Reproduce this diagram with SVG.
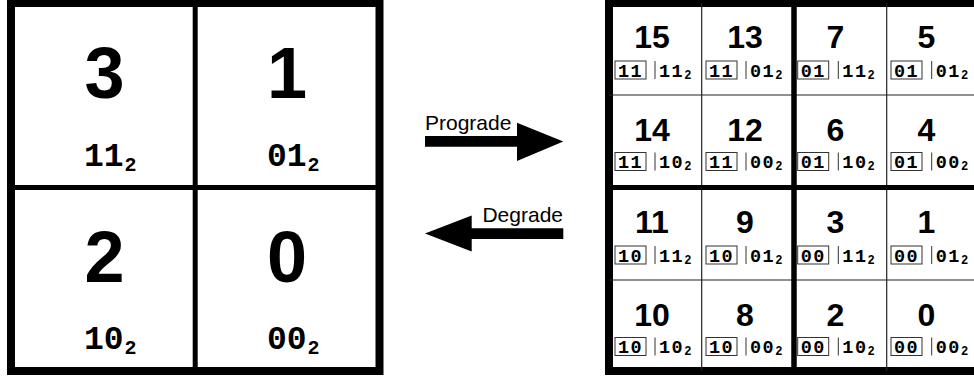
<svg xmlns="http://www.w3.org/2000/svg" width="974" height="377" viewBox="0 0 974 377">
<style>
.big{font-family:"Liberation Sans",Arial,sans-serif;font-weight:bold;font-size:72px;text-anchor:middle}
.lbl{font-family:"Liberation Mono","Courier New",monospace;font-weight:bold;font-size:33px}
.sub{font-size:20px}
.num{font-family:"Liberation Sans",Arial,sans-serif;font-weight:bold;font-size:32px;text-anchor:middle}
.bin{font-family:"Liberation Mono","Courier New",monospace;font-weight:bold;font-size:18.5px;letter-spacing:1.5px}
.sb{font-size:12px;letter-spacing:0}
.box{fill:none;stroke:#333;stroke-width:1}
.bar{stroke:#333;stroke-width:1}
.thin{stroke:#222;stroke-width:1.2}
.cap{font-family:"Liberation Sans",Arial,sans-serif;font-size:21px}
</style>
<rect width="974" height="377" fill="#fff"/>
<g id="left-grid">
<rect x="11" y="3" width="368.5" height="368" fill="#fff" stroke="#000" stroke-width="8"/>
<line x1="195.2" y1="3" x2="195.2" y2="371" stroke="#000" stroke-width="5"/>
<line x1="11" y1="187.5" x2="379.5" y2="187.5" stroke="#000" stroke-width="5"/>
</g>
<g id="cell-3"><text class="big" x="104.5" y="98">3</text><text class="lbl" x="84" y="165.5">11<tspan class="sub" dx="1" dy="5">2</tspan></text></g>
<g id="cell-1"><text class="big" x="287" y="98">1</text><text class="lbl" x="267" y="165.5">01<tspan class="sub" dx="1" dy="5">2</tspan></text></g>
<g id="cell-2"><text class="big" x="104.5" y="281.5">2</text><text class="lbl" x="84" y="349">10<tspan class="sub" dx="1" dy="5">2</tspan></text></g>
<g id="cell-0"><text class="big" x="287" y="281.5">0</text><text class="lbl" x="267" y="349">00<tspan class="sub" dx="1" dy="5">2</tspan></text></g>

<g id="connectors">
<g id="prograde">
<polygon points="425,136 517,136 517,122.7 563.3,141.6 517,161 517,146.7 425,146.7" fill="#000"/>
<text class="cap" x="425" y="130">Prograde</text>
</g>
<g id="degrade">
<polygon points="563.3,228.3 471.7,228.3 471.7,215.5 425,233.6 471.7,251.5 471.7,239 563.3,239" fill="#000"/>
<text class="cap" x="563" y="221.5" text-anchor="end">Degrade</text>
</g>
</g>

<g id="right-grid">
<rect x="609" y="3" width="371" height="368" fill="#fff" stroke="#000" stroke-width="8"/>
<line class="thin" x1="701.7" y1="3" x2="701.7" y2="371"/>
<line class="thin" x1="886.7" y1="3" x2="886.7" y2="371"/>
<line class="thin" x1="609" y1="95" x2="980" y2="95"/>
<line class="thin" x1="609" y1="280" x2="980" y2="280"/>
<line x1="794" y1="3" x2="794" y2="371" stroke="#000" stroke-width="5.5"/>
<line x1="609" y1="187.5" x2="980" y2="187.5" stroke="#000" stroke-width="5"/>
</g>

<g id="r15"><text class="num" x="652" y="48">15</text><rect class="box" x="615" y="61" width="31" height="18"/><text class="bin" x="618" y="76.5">11</text><line class="bar" x1="655" y1="61" x2="655" y2="79"/><text class="bin" x="659" y="76.5">11<tspan class="sb" dy="2">2</tspan></text></g>
<g id="r13"><text class="num" x="745" y="48">13</text><rect class="box" x="706" y="61" width="31" height="18"/><text class="bin" x="709" y="76.5">11</text><line class="bar" x1="746" y1="61" x2="746" y2="79"/><text class="bin" x="750" y="76.5">01<tspan class="sb" dy="2">2</tspan></text></g>
<g id="r7"><text class="num" x="835.5" y="48">7</text><rect class="box" x="797.7" y="61" width="31" height="18"/><text class="bin" x="800.7" y="76.5">01</text><line class="bar" x1="838.3" y1="61" x2="838.3" y2="79"/><text class="bin" x="842.3" y="76.5">11<tspan class="sb" dy="2">2</tspan></text></g>
<g id="r5"><text class="num" x="926.5" y="48">5</text><rect class="box" x="891" y="61" width="31" height="18"/><text class="bin" x="894" y="76.5">01</text><line class="bar" x1="931.7" y1="61" x2="931.7" y2="79"/><text class="bin" x="935.7" y="76.5">01<tspan class="sb" dy="2">2</tspan></text></g>

<g id="r14"><text class="num" x="652" y="140.6">14</text><rect class="box" x="615" y="152.5" width="31" height="18"/><text class="bin" x="618" y="168">11</text><line class="bar" x1="655" y1="152.5" x2="655" y2="170.5"/><text class="bin" x="659" y="168">10<tspan class="sb" dy="2">2</tspan></text></g>
<g id="r12"><text class="num" x="745" y="140.6">12</text><rect class="box" x="706" y="152.5" width="31" height="18"/><text class="bin" x="709" y="168">11</text><line class="bar" x1="746" y1="152.5" x2="746" y2="170.5"/><text class="bin" x="750" y="168">00<tspan class="sb" dy="2">2</tspan></text></g>
<g id="r6"><text class="num" x="835.5" y="140.6">6</text><rect class="box" x="797.7" y="152.5" width="31" height="18"/><text class="bin" x="800.7" y="168">01</text><line class="bar" x1="838.3" y1="152.5" x2="838.3" y2="170.5"/><text class="bin" x="842.3" y="168">10<tspan class="sb" dy="2">2</tspan></text></g>
<g id="r4"><text class="num" x="926.5" y="140.6">4</text><rect class="box" x="891" y="152.5" width="31" height="18"/><text class="bin" x="894" y="168">01</text><line class="bar" x1="931.7" y1="152.5" x2="931.7" y2="170.5"/><text class="bin" x="935.7" y="168">00<tspan class="sb" dy="2">2</tspan></text></g>

<g id="r11"><text class="num" x="652" y="233.3">11</text><rect class="box" x="615" y="246" width="31" height="18"/><text class="bin" x="618" y="261.5">10</text><line class="bar" x1="655" y1="246" x2="655" y2="264"/><text class="bin" x="659" y="261.5">11<tspan class="sb" dy="2">2</tspan></text></g>
<g id="r9"><text class="num" x="745" y="233.3">9</text><rect class="box" x="706" y="246" width="31" height="18"/><text class="bin" x="709" y="261.5">10</text><line class="bar" x1="746" y1="246" x2="746" y2="264"/><text class="bin" x="750" y="261.5">01<tspan class="sb" dy="2">2</tspan></text></g>
<g id="r3"><text class="num" x="835.5" y="233.3">3</text><rect class="box" x="797.7" y="246" width="31" height="18"/><text class="bin" x="800.7" y="261.5">00</text><line class="bar" x1="838.3" y1="246" x2="838.3" y2="264"/><text class="bin" x="842.3" y="261.5">11<tspan class="sb" dy="2">2</tspan></text></g>
<g id="r1"><text class="num" x="926.5" y="233.3">1</text><rect class="box" x="891" y="246" width="31" height="18"/><text class="bin" x="894" y="261.5">00</text><line class="bar" x1="931.7" y1="246" x2="931.7" y2="264"/><text class="bin" x="935.7" y="261.5">01<tspan class="sb" dy="2">2</tspan></text></g>

<g id="r10"><text class="num" x="652" y="325.7">10</text><rect class="box" x="615" y="337.5" width="31" height="18"/><text class="bin" x="618" y="353">10</text><line class="bar" x1="655" y1="337.5" x2="655" y2="355.5"/><text class="bin" x="659" y="353">10<tspan class="sb" dy="2">2</tspan></text></g>
<g id="r8"><text class="num" x="745" y="325.7">8</text><rect class="box" x="706" y="337.5" width="31" height="18"/><text class="bin" x="709" y="353">10</text><line class="bar" x1="746" y1="337.5" x2="746" y2="355.5"/><text class="bin" x="750" y="353">00<tspan class="sb" dy="2">2</tspan></text></g>
<g id="r2"><text class="num" x="835.5" y="325.7">2</text><rect class="box" x="797.7" y="337.5" width="31" height="18"/><text class="bin" x="800.7" y="353">00</text><line class="bar" x1="838.3" y1="337.5" x2="838.3" y2="355.5"/><text class="bin" x="842.3" y="353">10<tspan class="sb" dy="2">2</tspan></text></g>
<g id="r0"><text class="num" x="926.5" y="325.7">0</text><rect class="box" x="891" y="337.5" width="31" height="18"/><text class="bin" x="894" y="353">00</text><line class="bar" x1="931.7" y1="337.5" x2="931.7" y2="355.5"/><text class="bin" x="935.7" y="353">00<tspan class="sb" dy="2">2</tspan></text></g>
</svg>
